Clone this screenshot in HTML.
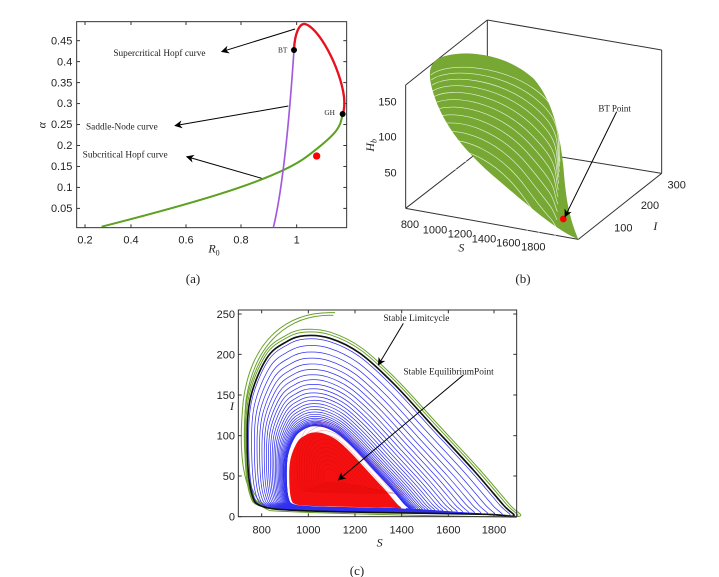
<!DOCTYPE html>
<html><head><meta charset="utf-8"><style>
html,body{margin:0;padding:0;background:#fff;}
svg{display:block;}
.t{font-family:"Liberation Sans",sans-serif;fill:#222;}
.s{font-family:"Liberation Serif",serif;fill:#222;}
</style></head><body>
<svg id="sv" width="719" height="577" viewBox="0 0 719 577" xmlns="http://www.w3.org/2000/svg">
<defs>
<marker id="ar3" viewBox="0 0 10 10" refX="9" refY="5" markerWidth="24" markerHeight="24" orient="auto" markerUnits="userSpaceOnUse">
<path d="M0,0 L10,5 L0,10 L3,5 z" fill="#000"/></marker>
</defs>

<g transform="translate(40,0) scale(0.33333)">
<rect x="110" y="65" width="810" height="618" fill="none" stroke="#333" stroke-width="3"/>
<g id="aticks" stroke="#333" stroke-width="3"></g>
<path d="M185,680 C420,620 700,545 800,470 S900,380 908,342" fill="none" stroke="#4aa319" stroke-width="6"/>
<path d="M185,680 C420,620 700,545 800,470 S900,380 908,342" fill="none" stroke="#7a9a2a" stroke-width="2"/>
<path d="M700,683 C720,600 742,450 762,150" fill="none" stroke="#a259e0" stroke-width="5"/>
<path d="M762,150 C764,100 778,70 795,72 C835,82 900,200 912,290 C915,320 911,335 908,342" fill="none" stroke="#e8111e" stroke-width="7"/>
<circle cx="762" cy="150" r="9" fill="#000"/>
<circle cx="908" cy="342" r="9" fill="#000"/>
<circle cx="830" cy="468" r="11" fill="#f00"/>
<line x1="765" y1="87" x2="545" y2="155" stroke="#000" stroke-width="3" marker-end="url(#ar3)"/>
<line x1="745" y1="318" x2="405" y2="377" stroke="#000" stroke-width="3" marker-end="url(#ar3)"/>
<line x1="665" y1="535" x2="440" y2="470" stroke="#000" stroke-width="3" marker-end="url(#ar3)"/>
<g class="s" font-size="28">
<text x="220" y="168">Supercritical Hopf curve</text>
<text x="138" y="388">Saddle-Node curve</text>
<text x="128" y="473">Subcritical Hopf curve</text>
<text x="742" y="158" text-anchor="end" font-size="22">BT</text>
<text x="885" y="345" text-anchor="end" font-size="22">GH</text>
</g>
<g class="t" font-size="33" text-anchor="end" id="aylab"></g>
<g class="t" font-size="33" text-anchor="middle">
<text x="135" y="730">0.2</text><text x="273" y="730">0.4</text><text x="438" y="730">0.6</text><text x="603" y="730">0.8</text><text x="770" y="730">1</text>
</g>
<text class="s" x="505" y="758" font-size="36" font-style="italic">R<tspan font-size="24" dy="8" font-style="normal">0</tspan></text>
<text class="s" x="16" y="385" font-size="36" font-style="italic" transform="rotate(-90 16 385)">α</text>
</g>

<g transform="translate(360,0) scale(0.33333)">
<g stroke="#333" stroke-width="3" fill="none">
<line x1="382" y1="60" x2="382" y2="435"/>
<line x1="382" y1="60" x2="905" y2="150"/>
<line x1="905" y1="150" x2="905" y2="520"/>
<line x1="137" y1="255" x2="137" y2="625"/>
<line x1="137" y1="255" x2="382" y2="60"/>
<line x1="382" y1="435" x2="905" y2="520"/>
<line x1="382" y1="435" x2="137" y2="625"/>
<line x1="137" y1="625" x2="655" y2="718"/>
<line x1="655" y1="718" x2="905" y2="520"/>
</g>
<path d="M210,215 C215,175 250,162 320,160 C400,162 470,190 520,235 C570,290 598,380 610,500 C617,580 622,640 655,718 C590,690 520,630 420,545 C330,470 270,400 235,320 C215,270 208,240 210,215 Z" fill="#77a833"/>
<g id="bwhite" fill="none" stroke="#fff" stroke-width="2" opacity="0.8"></g>
<circle cx="610" cy="657" r="10" fill="#f00"/>
<line x1="770" y1="335" x2="615" y2="650" stroke="#000" stroke-width="3" marker-end="url(#ar3)"/>
<text class="s" x="715" y="335" font-size="27">BT Point</text>
<g class="t" font-size="33">
<text x="110" y="316" text-anchor="end">150</text>
<text x="110" y="421" text-anchor="end">100</text>
<text x="110" y="529" text-anchor="end">50</text>
<text x="150" y="684" text-anchor="middle">800</text>
<text x="225" y="700" text-anchor="middle">1000</text>
<text x="300" y="712" text-anchor="middle">1200</text>
<text x="372" y="727" text-anchor="middle">1400</text>
<text x="445" y="740" text-anchor="middle">1600</text>
<text x="520" y="752" text-anchor="middle">1800</text>
<text x="950" y="565" text-anchor="middle">300</text>
<text x="870" y="627" text-anchor="middle">200</text>
<text x="790" y="695" text-anchor="middle">100</text>
</g>
<text class="s" x="295" y="755" font-size="36" font-style="italic">S</text>
<text class="s" x="880" y="690" font-size="36" font-style="italic">I</text>
<text class="s" x="42" y="455" font-size="36" font-style="italic" transform="rotate(-90 42 455)">H<tspan font-size="24" dy="8">b</tspan></text>
</g>

<g transform="translate(220,300) scale(0.33333)">
<g id="cloops"></g>
<rect x="55" y="30" width="835" height="620" fill="none" stroke="#333" stroke-width="3"/>
<g id="cticks" stroke="#333" stroke-width="3"></g>
<line x1="550" y1="70" x2="475" y2="195" stroke="#000" stroke-width="3" marker-end="url(#ar3)"/>
<line x1="730" y1="225" x2="355" y2="540" stroke="#000" stroke-width="3" marker-end="url(#ar3)"/>
<g class="s" font-size="28">
<text x="490" y="63">Stable Limitcycle</text>
<text x="550" y="223">Stable EquilibriumPoint</text>
</g>
<g class="t" font-size="33" text-anchor="end">
<text x="45" y="662">0</text><text x="45" y="540">50</text><text x="45" y="419">100</text>
<text x="45" y="297">150</text><text x="45" y="175">200</text><text x="45" y="54">250</text>
</g>
<g class="t" font-size="33" text-anchor="middle">
<text x="125" y="700">800</text><text x="265" y="700">1000</text><text x="405" y="700">1200</text>
<text x="545" y="700">1400</text><text x="685" y="700">1600</text><text x="822" y="700">1800</text>
</g>
<text class="s" x="470" y="740" font-size="36" font-style="italic">S</text>
<text class="s" x="30" y="330" font-size="36" font-style="italic">I</text>
</g>

<g class="s" font-size="13" text-anchor="middle">
<text x="193" y="283">(a)</text>
<text x="523" y="283">(b)</text>
<text x="357" y="575">(c)</text>
</g>
</svg>
<script>
var NS="http://www.w3.org/2000/svg";
function el(p,tag,a){var e=document.createElementNS(NS,tag);for(var k in a)e.setAttribute(k,a[k]);p.appendChild(e);return e;}
var at=document.getElementById('aticks'),al=document.getElementById('aylab');
for(var i=0;i<9;i++){var y=122+i*62.9;el(at,'line',{x1:110,y1:y,x2:120,y2:y});el(at,'line',{x1:920,y1:y,x2:910,y2:y});
var t=el(al,'text',{x:97,y:y+11});t.textContent=[0.45,0.4,0.35,0.3,0.25,0.2,0.15,0.1,0.05][i];}
[135,273,438,603,770].forEach(function(x){el(at,'line',{x1:x,y1:683,x2:x,y2:673});el(at,'line',{x1:x,y1:65,x2:x,y2:75});});
var bw=document.getElementById('bwhite');
for(var j=0;j<14;j++){var y0=225+j*14+j*j*0.6;
 el(bw,'path',{d:"M"+(212+j*2)+","+y0+" C"+(260+j*5)+","+(y0-40+j*2)+" "+(420)+","+(y0-30+j*6)+" "+(520-j*2)+","+(y0+40+j*10)+" S"+(590-j*2)+","+(y0+170+j*5)+" "+(600-j)+","+(y0+260)});}
var pts=[[82,450],[90,300],[140,175],[200,125],[255,107],[330,115],[420,160],[520,250],[640,380],[760,510],[850,615],[880,648],[800,643],[500,638],[250,632],[130,620],[95,580]];
function path(k,cx,cy){var q=pts.map(function(p){return [cx+(p[0]-cx)*k,cy+(p[1]-cy)*k];});var n=q.length,d="M"+q[0][0].toFixed(1)+","+q[0][1].toFixed(1);
for(var i=0;i<n;i++){var p0=q[(i-1+n)%n],p1=q[i],p2=q[(i+1)%n],p3=q[(i+2)%n];
d+=" C"+(p1[0]+(p2[0]-p0[0])/6).toFixed(1)+","+(p1[1]+(p2[1]-p0[1])/6).toFixed(1)+" "+(p2[0]-(p3[0]-p1[0])/6).toFixed(1)+","+(p2[1]-(p3[1]-p1[1])/6).toFixed(1)+" "+p2[0].toFixed(1)+","+p2[1].toFixed(1);}
return d+"Z";}
var g=document.getElementById('cloops');
el(g,'path',{d:"M345,38 C200,32 95,120 70,300 C55,450 62,600 150,632 C300,642 700,648 890,652",fill:"none",stroke:"#6aa22a","stroke-width":3});
el(g,'path',{d:"M340,46 C210,42 105,125 78,300 C65,450 72,595 150,626",fill:"none",stroke:"#6aa22a","stroke-width":3});
[1.035,1.02].forEach(function(k){el(g,'path',{d:path(k,299,640),fill:"none",stroke:"#6aa22a","stroke-width":3});});
var N=30;for(var i=0;i<N;i++){var f=i/(N-1);var k=0.46+0.52*Math.pow(f,2.3);
el(g,'path',{d:path(k,299,608),fill:"none",stroke:"#3030ee","stroke-width":2.2});}
el(g,'path',{d:path(1,299,612),fill:"none",stroke:"#111","stroke-width":5});
el(g,'path',{d:path(0.445,299,608),fill:"#fff"});
el(g,'path',{d:path(0.42,299,608),fill:"#f41010"});
for(var i=0;i<12;i++){var k=0.08+0.32*i/11;el(g,'path',{d:path(k,330,540),fill:"none",stroke:"#c00","stroke-width":1.2,opacity:0.5});}
var ct=document.getElementById('cticks');
[125,265,405,545,685,822].forEach(function(x){el(ct,'line',{x1:x,y1:650,x2:x,y2:640});el(ct,'line',{x1:x,y1:30,x2:x,y2:40});});
[650,528,407,285,163,42].forEach(function(y){el(ct,'line',{x1:55,y1:y,x2:65,y2:y});el(ct,'line',{x1:890,y1:y,x2:880,y2:y});});
</script>
</body></html>
